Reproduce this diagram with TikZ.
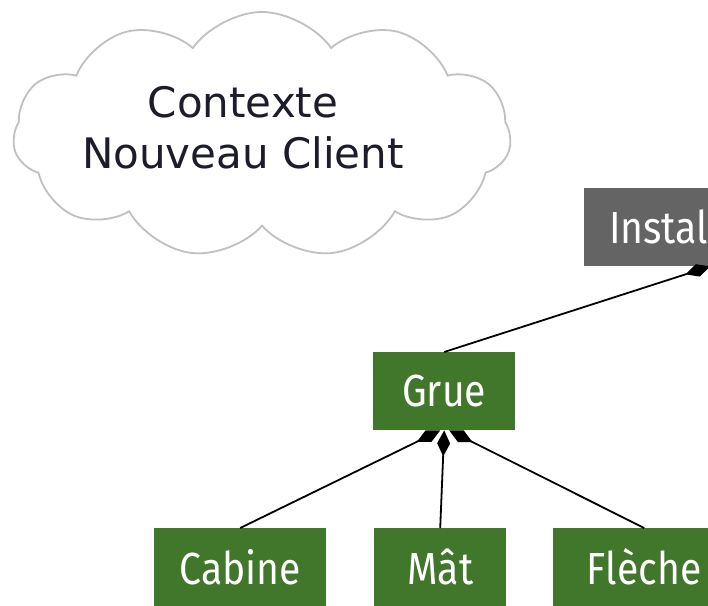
\documentclass[tikz,border=0pt]{standalone}
\usepackage{fontspec}
\setmainfont{DejaVu Sans}
\newfontfamily\boxfont[FakeStretch=0.87]{Fira Sans}
\usetikzlibrary{shapes.symbols,arrows.meta}
\definecolor{boxgreen}{HTML}{41772A}
\definecolor{boxgray}{HTML}{646464}
\definecolor{cloudline}{HTML}{C0C0C0}
\definecolor{textdark}{HTML}{1C1C2A}
\begin{document}
\begin{tikzpicture}[x=1pt,y=-1pt,
  gbox/.style={fill=boxgreen, text=white, font=\boxfont\fontsize{45}{50}\selectfont,
    minimum height=78, inner sep=0, anchor=north west},
  conn/.style={line width=1.8, black, -{Diamond[length=26,width=13]}}]
\useasboundingbox (0,0) rectangle (708,605);
\clip (0,0) rectangle (708,605);
\fill[white] (0,0) rectangle (708,605);
\node[cloud, draw=cloudline, line width=1.8, cloud puffs=11, cloud puff arc=110,
  aspect=2.1, minimum width=498, minimum height=246, inner sep=0] (cloud) at (262,135) {};
\node[font=\fontsize{42}{51}\selectfont, align=center, text=textdark] (ctx) at (243,128)
  {Contexte\\Nouveau Client};
\node[gbox, fill=boxgray, minimum width=252, text width=202, inner xsep=25, align=left]
  (inst) at (584,188) {Instal};
\node[gbox, minimum width=142] (grue) at (373,352) {Grue};
\node[gbox, minimum width=172] (cabine) at (154,528) {Cabine};
\node[gbox, minimum width=132] (mat) at (374,528) {Mât};
\node[gbox, minimum width=182] (fleche) at (553,528) {Flèche};
\draw[conn] (grue.north) -- (inst.south);
\draw[conn] (cabine.north) -- ([xshift=-4pt]grue.south);
\draw[conn] (mat.north) -- (grue.south);
\draw[conn] (fleche.north) -- ([xshift=5pt]grue.south);
\end{tikzpicture}
\end{document}
